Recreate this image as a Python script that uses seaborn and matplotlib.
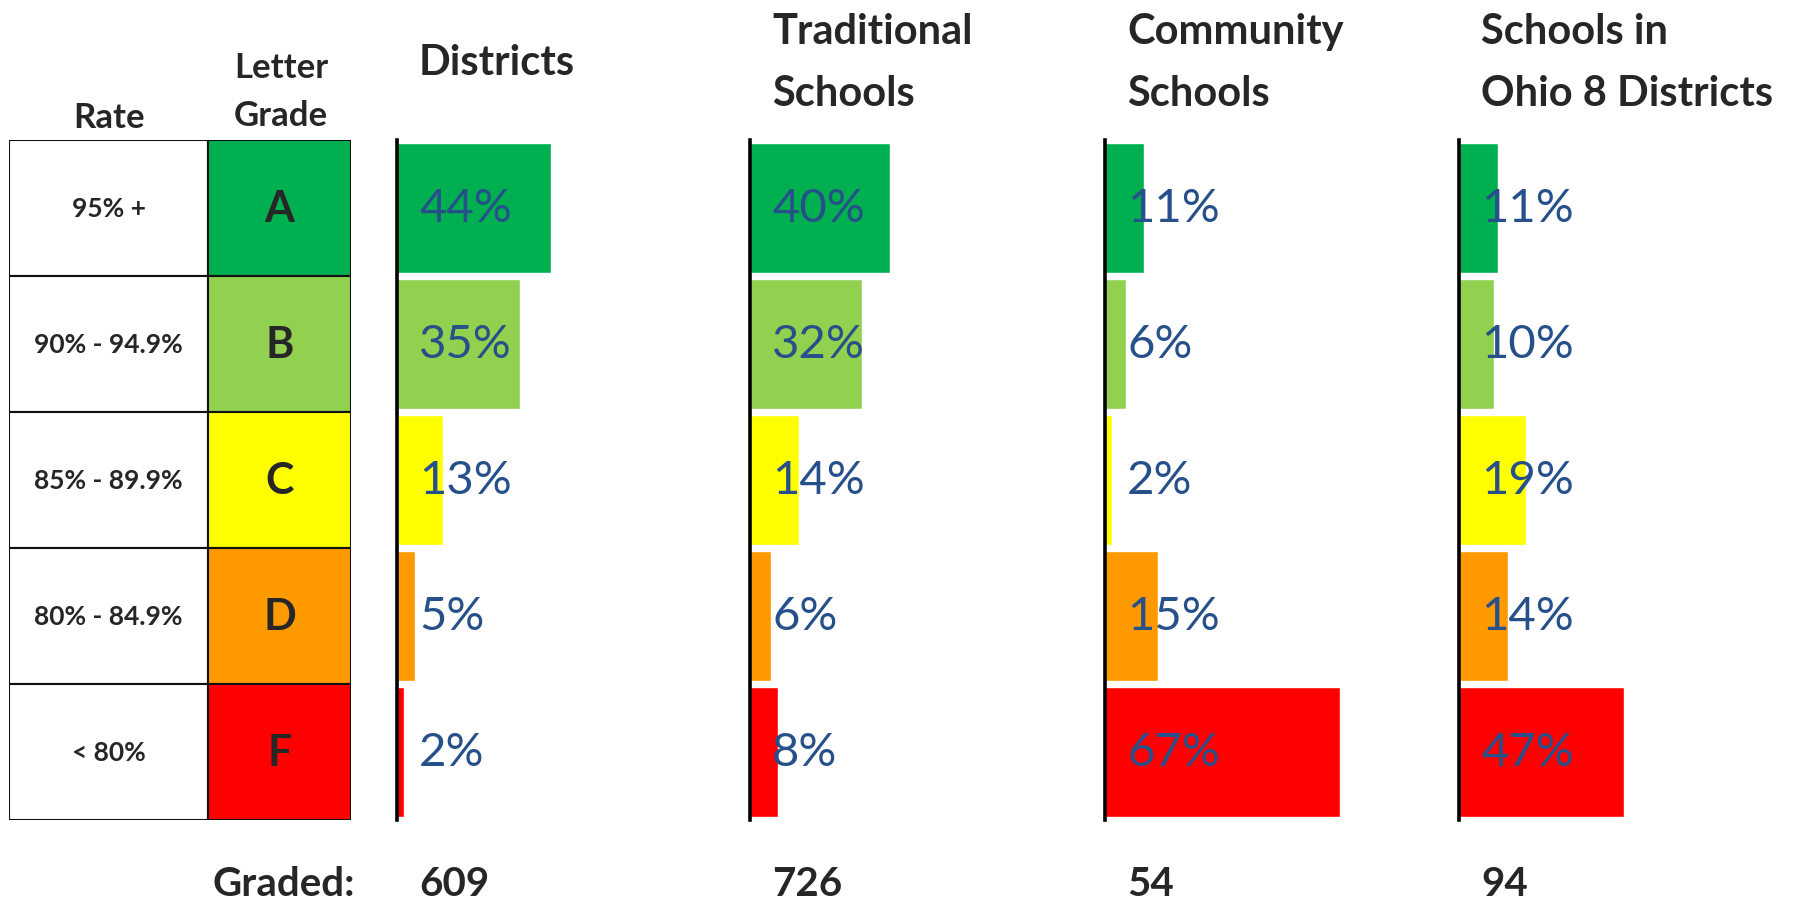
import pandas as pd
import seaborn as sns
import matplotlib.pyplot as plt
from matplotlib.patches import Rectangle

grades = ["A", "B", "C", "D", "F"]
rates = ["95% +", "90% - 94.9%", "85% - 89.9%", "80% - 84.9%", "< 80%"]
grade_colors = ["#00B050", "#92D050", "#FFFF00", "#FF9900", "#FF0000"]

groups = ["Districts", "Traditional\nSchools", "Community\nSchools", "Schools in\nOhio 8 Districts"]
districts = [44, 35, 13, 5, 2]
traditional = [40, 32, 14, 6, 8]
community = [11, 6, 2, 15, 67]
ohio8 = [11, 10, 19, 14, 47]
graded = [609, 726, 54, 94]

sns.set_style("white")
plt.rcParams["font.family"] = ["Lato", "DejaVu Sans"]

W, H = 1814, 903
fig = plt.figure(figsize=(W / 100, H / 100), dpi=100)

def fx(px):
    return px / W

def fy(py):
    return 1 - py / H

top, bottom = 141, 821
label_col = "#265089"

# table with rate / letter grade
tab = fig.add_axes([fx(9), fy(bottom), fx(351 - 9), fy(top) - fy(bottom)])
tab.set_xlim(0, 1)
tab.set_ylim(4.5, -0.5)
tab.axis("off")
split = 199 / 342
for i, (r, g, c) in enumerate(zip(rates, grades, grade_colors)):
    tab.add_patch(Rectangle((0, i - 0.5), split, 1, facecolor="white", edgecolor="#111111", lw=1.5))
    tab.add_patch(Rectangle((split, i - 0.5), 1 - split, 1, facecolor=c, edgecolor="#111111", lw=1.5))
    tab.text(split / 2, i, r, ha="center", va="center", fontsize=19, fontweight="bold")
    tab.text((1 + split) / 2, i, g, ha="center", va="center", fontsize=31, fontweight="bold")

fig.text(fx(109), fy(118), "Rate", ha="center", va="center", fontsize=25, fontweight="bold")
fig.text(fx(281), fy(92), "Letter\nGrade", ha="center", va="center", fontsize=25,
         fontweight="bold", linespacing=1.6)

panel_x = [397, 750, 1105, 1459]
series = [districts, traditional, community, ohio8]
for x0, name, vals, n in zip(panel_x, groups, series, graded):
    df = pd.DataFrame({"grade": grades, "pct": vals})
    ax = fig.add_axes([fx(x0), fy(bottom), fx(350), fy(top) - fy(bottom)])
    sns.barplot(data=df, y="grade", x="pct", hue="grade", palette=grade_colors,
                saturation=1, width=0.95, legend=False, ax=ax)
    ax.set_xlim(0, 100)
    ax.set_ylim(4.5, -0.5)
    ax.set_xticks([])
    ax.set_yticks([])
    ax.set_xlabel("")
    ax.set_ylabel("")
    for s in ["top", "right", "bottom"]:
        ax.spines[s].set_visible(False)
    ax.spines["left"].set_linewidth(2.6)
    ax.spines["left"].set_color("black")
    for i, v in enumerate(vals):
        ax.text(6.3, i, f"{v}%", ha="left", va="center", fontsize=34, color=label_col)
    fig.text(fx(x0 + 22), fy(63), name, ha="left", va="center", fontsize=30,
             fontweight="bold", linespacing=1.75)
    fig.text(fx(x0 + 22), fy(885), str(n), ha="left", va="center", fontsize=29, fontweight="bold")

fig.text(fx(355), fy(885), "Graded:", ha="right", va="center", fontsize=29, fontweight="bold")

fig.savefig("out.png", dpi=100, facecolor="white")
